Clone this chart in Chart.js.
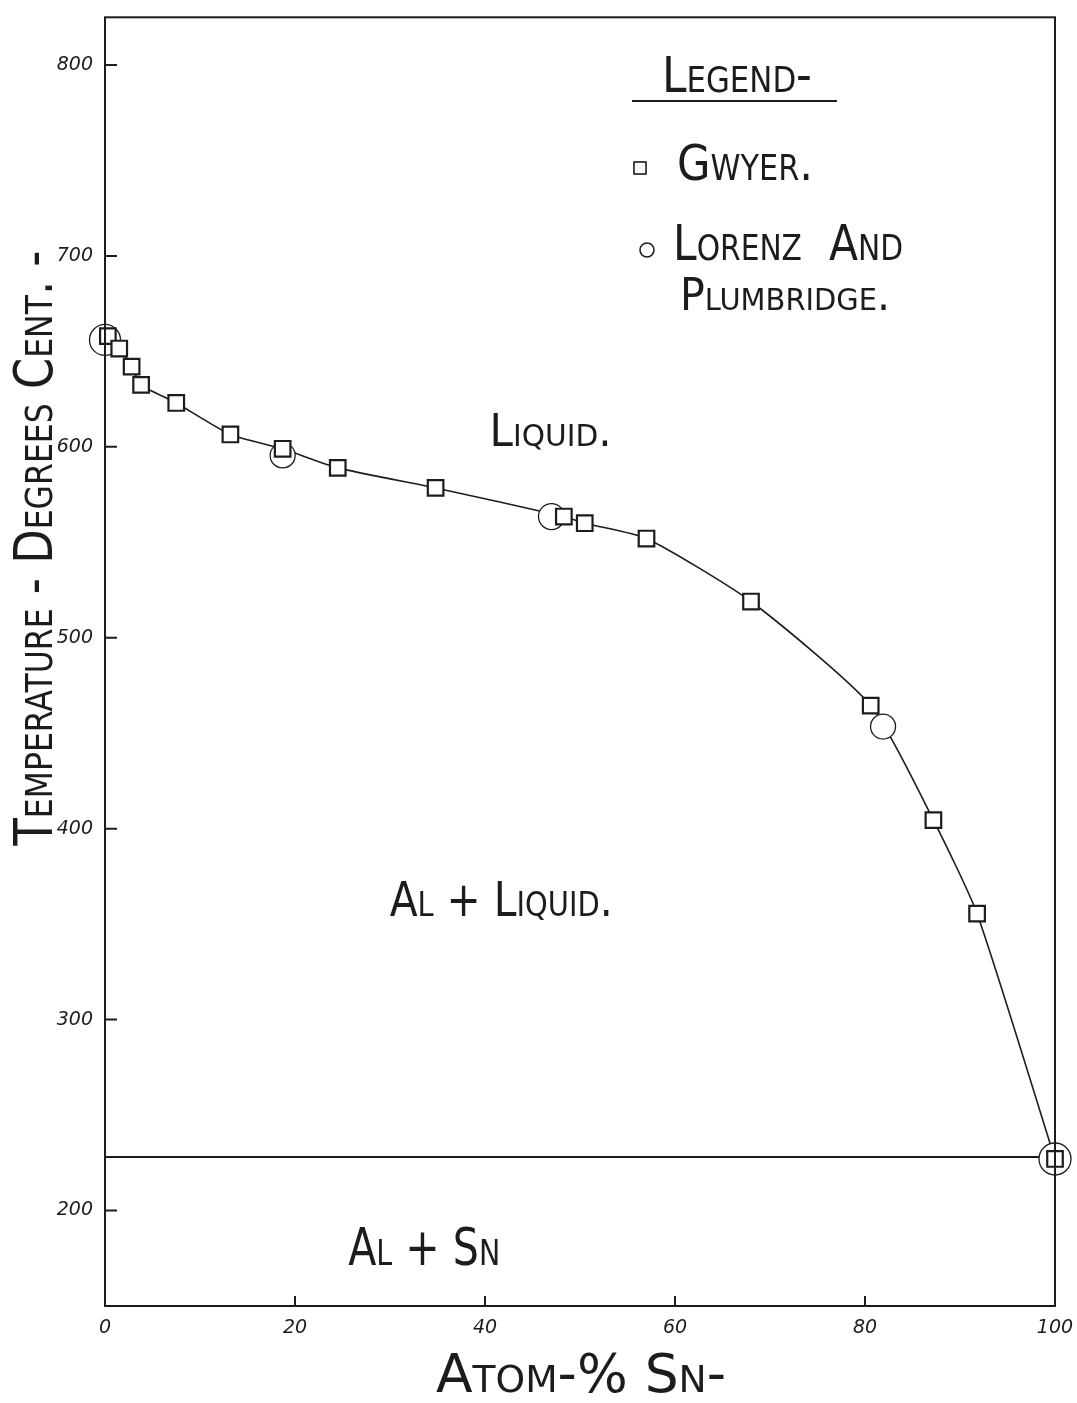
<!DOCTYPE html>
<html>
<head>
<meta charset="utf-8">
<title>Al - Sn liquidus</title>
<script src="https://cdn.jsdelivr.net/npm/chart.js@4.4.1/dist/chart.umd.min.js"></script>
<style>
  html, body { margin: 0; padding: 0; background: #fff; }
  #wrap { width: 1077px; height: 1403px; }
</style>
</head>
<body>
<div id="wrap"><canvas id="chart" width="1077" height="1403"></canvas></div>
<script>
// Gwyer (squares) - atom % Sn vs temperature
const gwyerX = [0.3, 1.5, 2.8, 3.8, 7.5, 13.2, 18.7, 24.5, 34.8, 48.3, 50.5, 57.0, 68.0, 80.6, 87.2, 91.8, 100];
const gwyerT = [658, 651.5, 642, 632.5, 623, 606.5, 599, 589, 578.5, 563.5, 560, 552, 519, 464.5, 404.5, 355.5, 227];

// Lorenz and Plumbridge (circles)
const lorenzX = [0, 18.7, 47.0, 81.9, 100];
const lorenzT = [656, 595.5, 563.5, 453.5, 227];

// eutectic horizontal
const eutecticX = [0, 100];
const eutecticT = [228, 228];

const xTicks = [0, 20, 40, 60, 80, 100];
const yTicks = [200, 300, 400, 500, 600, 700, 800];

const INK = "#1c1c1c";
const HAND = "'DejaVu Sans', sans-serif";

function toPoints(xs, ys) {
  return xs.map((x, i) => ({ x: x, y: ys[i] }));
}

// region labels, anchored in data units (centre x, baseline temperature)
const regionLabels = [
  { text: "Liquid.", x: 46.9, t: 600.5, size: 44, width: 122 },
  { text: "Al + Liquid.", x: 41.7, t: 354.5, size: 48, width: 223 },
  { text: "Al + Sn", x: 33.6, t: 171.5, size: 52, width: 152 }
];

function hand(ctx, text, x, y, size, width) {
  ctx.font = `small-caps ${size}px ${HAND}`;
  ctx.fillText(text, x, y, width);
}

const sketchPlugin = {
  id: "sketch",
  afterDatasetsDraw(chart) {
    const { ctx, chartArea: a, scales: { x, y } } = chart;
    ctx.save();
    ctx.strokeStyle = INK;
    ctx.lineWidth = 2;
    ctx.strokeRect(a.left, a.top, a.right - a.left, a.bottom - a.top);
    // ticks point inwards
    ctx.beginPath();
    xTicks.slice(1, -1).forEach(v => {
      const px = x.getPixelForValue(v);
      ctx.moveTo(px, a.bottom);
      ctx.lineTo(px, a.bottom - 10);
    });
    yTicks.forEach(v => {
      const py = y.getPixelForValue(v);
      ctx.moveTo(a.left, py);
      ctx.lineTo(a.left + 12, py);
    });
    ctx.stroke();
    ctx.restore();
  },
  afterDraw(chart) {
    const { ctx, scales: { x, y } } = chart;
    ctx.save();
    ctx.fillStyle = INK;
    ctx.strokeStyle = INK;
    ctx.textAlign = "center";
    ctx.textBaseline = "alphabetic";

    regionLabels.forEach(l => {
      hand(ctx, l.text, x.getPixelForValue(l.x), y.getPixelForValue(l.t), l.size, l.width);
    });

    // legend block
    hand(ctx, "Legend-", 737, 92, 50, 150);
    ctx.lineWidth = 2;
    ctx.beginPath();
    ctx.moveTo(632, 101);
    ctx.lineTo(837, 101);
    ctx.stroke();

    ctx.lineWidth = 1.6;
    ctx.strokeRect(634, 162, 12, 12);
    hand(ctx, "Gwyer.", 745, 180, 50, 136);

    ctx.beginPath();
    ctx.arc(647, 250, 7, 0, Math.PI * 2);
    ctx.stroke();
    hand(ctx, "Lorenz  And", 788, 260, 50, 230);
    hand(ctx, "Plumbridge.", 785, 310, 44, 210);

    // axis titles
    hand(ctx, "Atom-% Sn-", 581, 1392, 54, 290);
    ctx.translate(52, 548);
    ctx.rotate(-Math.PI / 2);
    hand(ctx, "Temperature - Degrees Cent. -", 0, 0, 54, 595);
    ctx.restore();
  }
};

const tickFont = { family: HAND, size: 19, style: "italic" };

new Chart(document.getElementById("chart"), {
  type: "scatter",
  data: {
    datasets: [
      {
        label: "liquidus",
        data: toPoints(gwyerX, gwyerT),
        showLine: true,
        pointRadius: 0,
        borderColor: INK,
        borderWidth: 1.6,
        tension: 0.2,
        clip: false,
        order: 3
      },
      {
        label: "eutectic",
        data: toPoints(eutecticX, eutecticT),
        showLine: true,
        pointRadius: 0,
        borderColor: INK,
        borderWidth: 2,
        clip: false,
        order: 3
      },
      {
        label: "Lorenz and Plumbridge",
        data: toPoints(lorenzX, lorenzT),
        pointStyle: "circle",
        pointRadius: [15.5, 12.5, 13, 12.5, 16],
        backgroundColor: "#fff",
        borderColor: INK,
        borderWidth: 1.3,
        clip: false,
        order: 2
      },
      {
        label: "Gwyer",
        data: toPoints(gwyerX, gwyerT),
        pointStyle: "rect",
        pointRadius: 11,
        backgroundColor: "#fff",
        borderColor: INK,
        borderWidth: 2.2,
        clip: false,
        order: 1
      }
    ]
  },
  options: {
    responsive: false,
    animation: false,
    events: [],
    layout: { padding: { left: 0, right: 22, top: 6, bottom: 0 } },
    plugins: {
      legend: { display: false },
      tooltip: { enabled: false }
    },
    scales: {
      x: {
        type: "linear",
        min: 0,
        max: 100,
        afterBuildTicks: s => { s.ticks = xTicks.map(v => ({ value: v })); },
        afterFit: s => { s.height = 97; s.paddingLeft = 0; s.paddingRight = 0; },
        grid: { display: false },
        border: { display: false },
        ticks: { padding: 3, color: INK, font: tickFont, maxRotation: 0 }
      },
      y: {
        type: "linear",
        min: 150,
        max: 825,
        afterBuildTicks: s => { s.ticks = yTicks.map(v => ({ value: v })); },
        afterFit: s => { s.width = 105; s.paddingTop = 0; s.paddingBottom = 0; },
        grid: { display: false },
        border: { display: false },
        ticks: { padding: 4, color: INK, font: tickFont }
      }
    }
  },
  plugins: [sketchPlugin]
});
</script>
</body>
</html>
